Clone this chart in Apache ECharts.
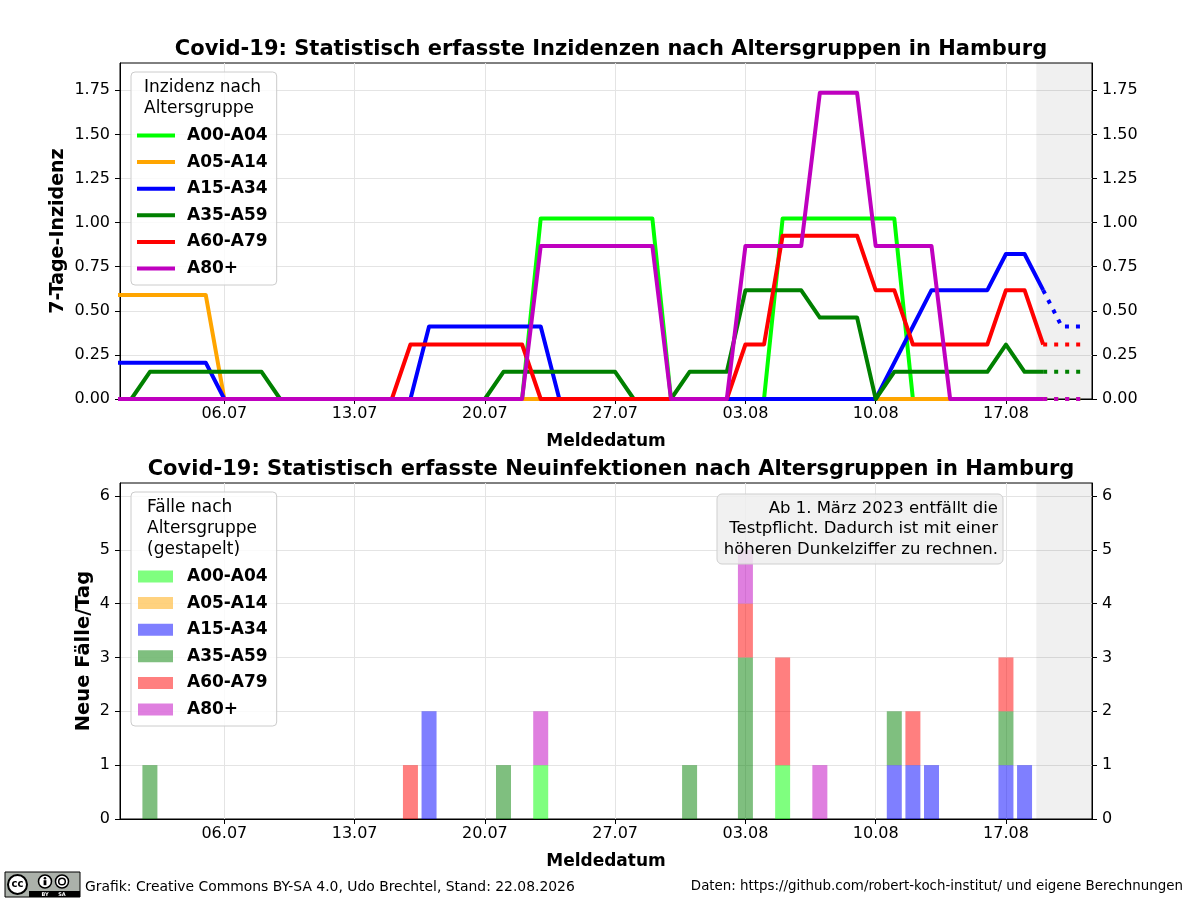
<!DOCTYPE html>
<html>
<head>
<meta charset="utf-8">
<script src="https://cdn.jsdelivr.net/npm/echarts@6/dist/echarts.min.js"></script>
<style>
html,body{margin:0;padding:0;background:#fff;}
#chart{width:1200px;height:900px;}
</style>
</head>
<body>
<div id="chart"></div>
<script>
// ---------------- DATA ----------------
const dates = ['30.06','01.07','02.07','03.07','04.07','05.07','06.07','07.07','08.07','09.07',
  '10.07','11.07','12.07','13.07','14.07','15.07','16.07','17.07','18.07','19.07',
  '20.07','21.07','22.07','23.07','24.07','25.07','26.07','27.07','28.07','29.07',
  '30.07','31.07','01.08','02.08','03.08','04.08','05.08','06.08','07.08','08.08',
  '09.08','10.08','11.08','12.08','13.08','14.08','15.08','16.08','17.08','18.08',
  '19.08','20.08','21.08'];
const groups = ['A00-A04','A05-A14','A15-A34','A35-A59','A60-A79','A80+'];
const tickLabels = ['06.07','13.07','20.07','27.07','03.08','10.08','17.08'];
const yTicksTop = [0,0.25,0.5,0.75,1.0,1.25,1.5,1.75];
const yTicksBottom = [0,1,2,3,4,5,6];
const lastSolidDate = '19.08';

// 7-Tage-Inzidenz per day
const incA00 = [0,0,0,0,0,0,0,0,0,0, 0,0,0,0,0,0,0,0,0,0, 0,0,0,1.024,1.024,1.024,1.024,1.024,1.024,1.024,
  0,0,0,0,0,0,1.024,1.024,1.024,1.024, 1.024,1.024,1.024,0,0,0,0,0,0,0, 0,0,0];
const incA05 = [0.59,0.59,0.59,0.59,0.59,0.59,0,0,0,0, 0,0,0,0,0,0,0,0,0,0, 0,0,0,0,0,0,0,0,0,0,
  0,0,0,0,0,0,0,0,0,0, 0,0,0,0,0,0,0,0,0,0, 0,0,0];
const incA15 = [0.206,0.206,0.206,0.206,0.206,0.206,0,0,0,0, 0,0,0,0,0,0,0,0.411,0.411,0.411,
  0.411,0.411,0.411,0.411,0,0,0,0,0,0, 0,0,0,0,0,0,0,0,0,0,
  0,0,0.206,0.411,0.617,0.617,0.617,0.617,0.822,0.822, 0.617,0.411,0.411];
const incA35 = [0,0,0.154,0.154,0.154,0.154,0.154,0.154,0.154,0, 0,0,0,0,0,0,0,0,0,0,
  0,0.154,0.154,0.154,0.154,0.154,0.154,0.154,0,0, 0,0.154,0.154,0.154,0.616,0.616,0.616,0.616,0.462,0.462,
  0.462,0,0.154,0.154,0.154,0.154,0.154,0.154,0.308,0.154, 0.154,0.154,0.154];
const incA60 = [0,0,0,0,0,0,0,0,0,0, 0,0,0,0,0,0,0.309,0.309,0.309,0.309,
  0.309,0.309,0.309,0,0,0,0,0,0,0, 0,0,0,0,0.309,0.309,0.926,0.926,0.926,0.926,
  0.926,0.617,0.617,0.309,0.309,0.309,0.309,0.309,0.617,0.617, 0.309,0.309,0.309];
const incA80 = [0,0,0,0,0,0,0,0,0,0, 0,0,0,0,0,0,0,0,0,0, 0,0,0,0.868,0.868,0.868,0.868,0.868,0.868,0.868,
  0,0,0,0,0.868,0.868,0.868,0.868,1.736,1.736, 1.736,0.868,0.868,0.868,0.868,0,0,0,0,0, 0,0,0];

// Neue Fälle pro Tag
const casesA00 = [0,0,0,0,0,0,0,0,0,0, 0,0,0,0,0,0,0,0,0,0, 0,0,0,1,0,0,0,0,0,0,
  0,0,0,0,0,0,1,0,0,0, 0,0,0,0,0,0,0,0,0,0, 0,0,0];
const casesA05 = [0,0,0,0,0,0,0,0,0,0, 0,0,0,0,0,0,0,0,0,0, 0,0,0,0,0,0,0,0,0,0,
  0,0,0,0,0,0,0,0,0,0, 0,0,0,0,0,0,0,0,0,0, 0,0,0];
const casesA15 = [0,0,0,0,0,0,0,0,0,0, 0,0,0,0,0,0,0,2,0,0, 0,0,0,0,0,0,0,0,0,0,
  0,0,0,0,0,0,0,0,0,0, 0,0,1,1,1,0,0,0,1,1, 0,0,0];
const casesA35 = [0,0,1,0,0,0,0,0,0,0, 0,0,0,0,0,0,0,0,0,0, 0,1,0,0,0,0,0,0,0,0,
  0,1,0,0,3,0,0,0,0,0, 0,0,1,0,0,0,0,0,1,0, 0,0,0];
const casesA60 = [0,0,0,0,0,0,0,0,0,0, 0,0,0,0,0,0,1,0,0,0, 0,0,0,0,0,0,0,0,0,0,
  0,0,0,0,1,0,2,0,0,0, 0,0,0,1,0,0,0,0,1,0, 0,0,0];
const casesA80 = [0,0,0,0,0,0,0,0,0,0, 0,0,0,0,0,0,0,0,0,0, 0,0,0,1,0,0,0,0,0,0,
  0,0,0,0,1,0,0,0,1,0, 0,0,0,0,0,0,0,0,0,0, 0,0,0];

const incidence = [incA00, incA05, incA15, incA35, incA60, incA80];
const cases = [casesA00, casesA05, casesA15, casesA35, casesA60, casesA80];

// ---------------- STYLE ----------------
const FONT = 'DejaVu Sans';
const lineColors = ['#00ff00','#ffa500','#0000ff','#008000','#ff0000','#bf00bf'];
const barColors = ['rgba(0,255,0,0.5)','rgba(255,165,0,0.5)','rgba(0,0,255,0.5)','rgba(0,128,0,0.5)','rgba(255,0,0,0.5)','rgba(191,0,191,0.5)'];
const GRID_COLOR = '#e4e4e4';

const EPOCH = Date.UTC(2026,0,1);
function dayNum(s){ const p = s.split('.').map(Number); return (Date.UTC(2026,p[1]-1,p[0]) - EPOCH)/864e5; }
function dayLabel(v){ const dt = new Date(EPOCH + Math.round(v)*864e5);
  return String(dt.getUTCDate()).padStart(2,'0') + '.' + String(dt.getUTCMonth()+1).padStart(2,'0'); }

const X_MIN = dayNum('06.07') - 5.607;
const X_MAX = dayNum('17.08') + 4.624;
const GREY_START = dayNum('17.08') + 1.63;
const xTicks = tickLabels.map(dayNum);
const splitIdx = dates.indexOf(lastSolidDate);

function xAxisDef(gi){
  return {
    type:'value', gridIndex:gi, min:X_MIN, max:X_MAX,
    axisLine:{show:true, onZero:false, lineStyle:{color:'#000', width:1}},
    axisTick:{show:true, length:5, customValues:xTicks, lineStyle:{color:'#000'}},
    axisLabel:{customValues:xTicks, formatter:v=>dayLabel(v), fontFamily:FONT, fontSize:16, color:'#000', margin:7},
    splitLine:{show:true, lineStyle:{color:GRID_COLOR, width:1}},
    name:'Meldedatum', nameLocation:'middle', nameGap:34,
    nameTextStyle:{fontFamily:FONT, fontSize:17, fontWeight:'bold', color:'#000'}
  };
}
function yAxisDef(gi, pos, max, ticks, fmt, name, gap, nameSize){
  const left = pos === 'left';
  return {
    type:'value', gridIndex:gi, position:pos, min:0, max:max,
    axisLine:{show:true, lineStyle:{color:'#000', width:1}},
    axisTick:{show:true, length:5, customValues:ticks, lineStyle:{color:'#000'}},
    axisLabel:{customValues:ticks, formatter:fmt, fontFamily:FONT, fontSize:16, color:'#000', margin:10},
    splitLine:{show:left, lineStyle:{color:GRID_COLOR, width:1}},
    name: left ? name : '', nameLocation:'middle', nameGap:gap, nameRotate:90, nameMoveOverlap:false,
    nameTextStyle:{fontFamily:FONT, fontSize:nameSize, fontWeight:'bold', color:'#000'}
  };
}

const series = [];
incidence.forEach((arr,i)=>{
  const solid = {
    type:'line', name:groups[i], xAxisIndex:0, yAxisIndex:0,
    data: dates.slice(0, splitIdx+1).map((d,j)=>[dayNum(d), arr[j]]),
    symbol:'none', showSymbol:false, clip:true, animation:false,
    lineStyle:{width:4, color:lineColors[i], join:'round', cap:'butt'},
    itemStyle:{color:lineColors[i]}, z:2+i
  };
  if(i===0){
    solid.markArea = {silent:true, itemStyle:{color:'rgba(0,0,0,0.06)'}, data:[[{xAxis:GREY_START},{xAxis:X_MAX}]]};
  }
  series.push(solid);
  series.push({
    type:'line', name:groups[i], xAxisIndex:0, yAxisIndex:0,
    data: dates.slice(splitIdx).map((d,j)=>[dayNum(d), arr[splitIdx+j]]),
    symbol:'none', showSymbol:false, clip:true, animation:false,
    lineStyle:{width:4, color:lineColors[i], type:[4,7], cap:'butt'},
    itemStyle:{color:lineColors[i]}, z:2+i
  });
});
cases.forEach((arr,i)=>{
  const s = {
    type:'bar', name:groups[i], xAxisIndex:1, yAxisIndex:2, stack:'faelle', barWidth:15,
    // count column first so that ECharts stacks the count dimension (series aligned by index)
    encode:{x:1, y:0},
    data: dates.map((d,j)=>[arr[j], dayNum(d)]),
    itemStyle:{color:barColors[i]}, animation:false
  };
  if(i===0){
    s.markArea = {silent:true, itemStyle:{color:'rgba(0,0,0,0.06)'}, data:[[{xAxis:GREY_START},{xAxis:X_MAX}]]};
  }
  series.push(s);
});

function legendDef(top, padTop, colors, iw, ih, textPad){
  return {
    orient:'vertical', left:131, top:top, padding:[padTop,9,8,textPad[0]],
    itemWidth:iw, itemHeight:ih, itemGap:9.6, icon:'rect',
    backgroundColor:'rgba(255,255,255,0.8)', borderColor:'#cccccc', borderWidth:1, borderRadius:4,
    selectedMode:false,
    textStyle:{fontFamily:FONT, fontSize:17, fontWeight:'bold', color:'#000', padding:[0,0,0,textPad[1]]},
    data: groups.map((g,i)=>({name:g, icon:'rect', itemStyle:{color:colors[i], borderWidth:0}}))
  };
}

const option = {
  backgroundColor:'#fff',
  animation:false,
  textStyle:{fontFamily:FONT},
  title:[
    {text:'Covid-19: Statistisch erfasste Inzidenzen nach Altersgruppen in Hamburg', left:606, top:34, textAlign:'center',
     textStyle:{fontFamily:FONT, fontSize:21, fontWeight:'bold', color:'#000'}},
    {text:'Covid-19: Statistisch erfasste Neuinfektionen nach Altersgruppen in Hamburg', left:606, top:454, textAlign:'center',
     textStyle:{fontFamily:FONT, fontSize:21, fontWeight:'bold', color:'#000'}}
  ],
  grid:[
    {left:120, right:108, top:63, height:336, show:true, borderColor:'#000', borderWidth:1, backgroundColor:'transparent'},
    {left:120, right:108, top:483, height:336, show:true, borderColor:'#000', borderWidth:1, backgroundColor:'transparent'}
  ],
  xAxis:[xAxisDef(0), xAxisDef(1)],
  yAxis:[
    yAxisDef(0,'left',1.905,yTicksTop,v=>v.toFixed(2),'7-Tage-Inzidenz',52.5,19),
    yAxisDef(0,'right',1.905,yTicksTop,v=>v.toFixed(2),'',0,19),
    yAxisDef(1,'left',6.24,yTicksBottom,v=>String(v),'Neue Fälle/Tag',26,19.5),
    yAxisDef(1,'right',6.24,yTicksBottom,v=>String(v),'',0,19)
  ],
  legend:[
    legendDef(72, 55, lineColors, 38, 4, [6,7]),
    legendDef(492, 76, barColors, 35, 12, [7,9])
  ],
  series: series,
  graphic:[
    {type:'text', left:144, top:77, z:100, silent:true,
     style:{text:'Inzidenz nach\nAltersgruppe', font:'17px "DejaVu Sans"', fill:'#000', lineHeight:21}},
    {type:'text', left:147, top:497, z:100, silent:true,
     style:{text:'Fälle nach\nAltersgruppe\n(gestapelt)', font:'17px "DejaVu Sans"', fill:'#000', lineHeight:21}},
    {type:'rect', z:100, silent:true, shape:{x:717, y:494, width:286, height:70, r:5},
     style:{fill:'rgba(238,238,238,0.85)', stroke:'#cfcfcf', lineWidth:1}},
    {type:'text', z:101, silent:true, x:998, y:498,
     style:{text:'Ab 1. März 2023 entfällt die\nTestpflicht. Dadurch ist mit einer\nhöheren Dunkelziffer zu rechnen.',
       font:'16.5px "DejaVu Sans"', fill:'#000', align:'right', verticalAlign:'top', lineHeight:20.5}},
    // CC BY-SA badge
    {type:'group', x:5, y:872, z:100, silent:true, children:[
      {type:'rect', shape:{x:0, y:0, width:75, height:25}, style:{fill:'#abb1aa', stroke:'#000', lineWidth:1}},
      {type:'rect', shape:{x:24, y:19, width:51, height:6}, style:{fill:'#000'}},
      {type:'circle', shape:{cx:12.5, cy:12.5, r:9.5}, style:{fill:'#fff', stroke:'#000', lineWidth:2}},
      {type:'text', style:{x:12.5, y:12.8, text:'cc', font:'bold 10px "DejaVu Sans"', fill:'#000', align:'center', verticalAlign:'middle'}},
      {type:'circle', shape:{cx:40, cy:9.5, r:6.5}, style:{fill:'#fff', stroke:'#000', lineWidth:1.5}},
      {type:'circle', shape:{cx:40, cy:6.3, r:1.3}, style:{fill:'#000'}},
      {type:'rect', shape:{x:38.6, y:8.2, width:2.8, height:5}, style:{fill:'#000'}},
      {type:'circle', shape:{cx:57, cy:9.5, r:6.5}, style:{fill:'#fff', stroke:'#000', lineWidth:1.5}},
      {type:'circle', shape:{cx:57, cy:9.5, r:3.3}, style:{fill:'none', stroke:'#000', lineWidth:1.5}},
      {type:'text', style:{x:40, y:22.3, text:'BY', font:'bold 5px "DejaVu Sans"', fill:'#fff', align:'center', verticalAlign:'middle'}},
      {type:'text', style:{x:57, y:22.3, text:'SA', font:'bold 5px "DejaVu Sans"', fill:'#fff', align:'center', verticalAlign:'middle'}}
    ]},
    {type:'text', x:85, y:887, z:100, silent:true,
     style:{text:'Grafik: Creative Commons BY-SA 4.0, Udo Brechtel, Stand: 22.08.2026', font:'13.9px "DejaVu Sans"', fill:'#000', verticalAlign:'middle'}},
    {type:'text', x:1183, y:887, z:100, silent:true,
     style:{text:'Daten: https://github.com/robert-koch-institut/ und eigene Berechnungen', font:'13.4px "DejaVu Sans"', fill:'#000', align:'right', verticalAlign:'middle'}}
  ]
};

const chart = echarts.init(document.getElementById('chart'), null, {renderer:'canvas'});
chart.setOption(option);
</script>
</body>
</html>
